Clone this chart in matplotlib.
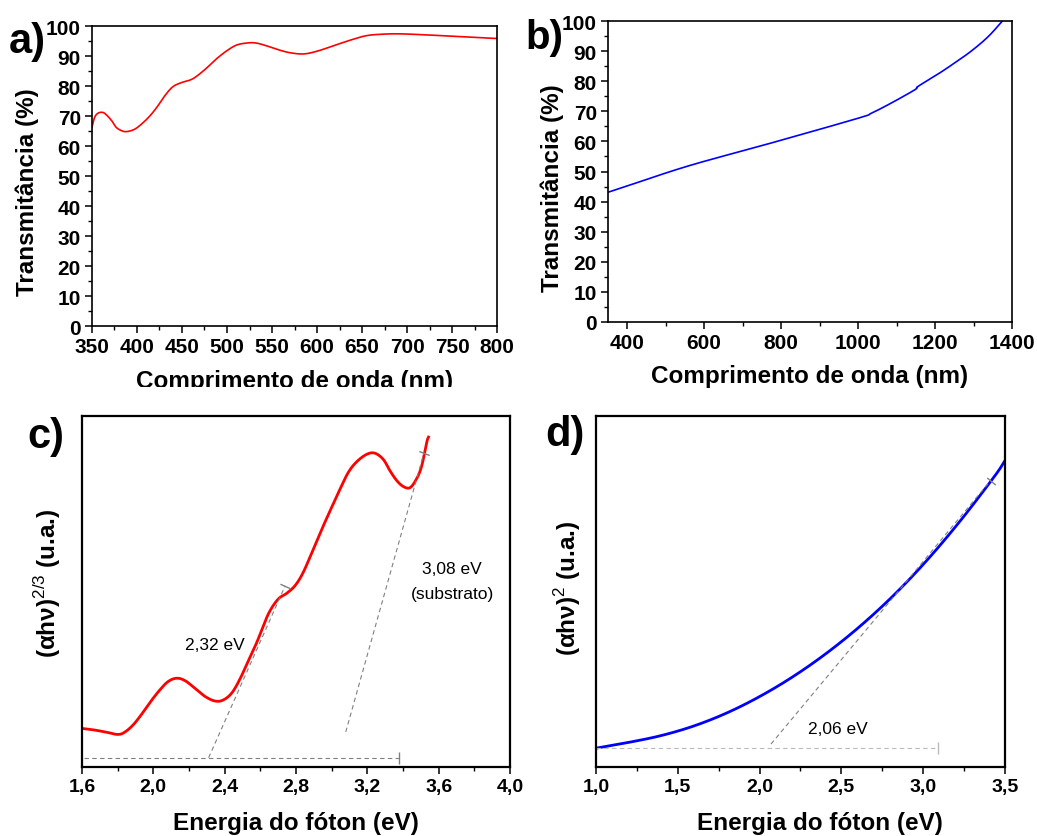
import matplotlib
matplotlib.use("Agg")
import matplotlib.pyplot as plt
from matplotlib.ticker import MultipleLocator, FuncFormatter
from matplotlib.transforms import Bbox, TransformedBbox

plt.rcParams['font.family'] = ['Liberation Sans', 'DejaVu Sans']
plt.rcParams['mathtext.fontset'] = 'custom'
plt.rcParams['mathtext.rm'] = 'Liberation Sans'
plt.rcParams['mathtext.bf'] = 'Liberation Sans:bold'

# a) transmitância do filme
wl_a = [350, 353, 357, 362, 366, 372, 377, 383, 388, 396, 403, 413, 422, 431,
        440, 450, 459, 466, 477, 488, 500, 511, 524, 533, 544, 557, 570, 585,
        600, 618, 637, 655, 674, 692, 718, 744, 770, 796, 800]
trans_a = [66.2, 69.6, 71.0, 71.2, 70.4, 68.4, 66.2, 65.1, 64.8, 65.4, 66.8,
           69.6, 72.9, 76.8, 79.8, 81.2, 82.0, 83.2, 85.9, 89.0, 91.8, 93.7,
           94.4, 94.3, 93.4, 92.1, 91.1, 90.7, 91.6, 93.4, 95.3, 96.8, 97.3,
           97.4, 97.1, 96.7, 96.3, 95.9, 95.9]

# b) transmitância do substrato
wl_b = [350, 400, 560, 775, 1000, 1035, 1087, 1148, 1156, 1208, 1250, 1295,
        1338, 1375]
trans_b = [43.1, 45.2, 51.9, 59.5, 67.7, 69.4, 72.8, 77.2, 78.3, 82.4, 86.0,
           90.1, 94.8, 100.0]

# c) Tauc (alfa h nu)^(2/3)
e_c = [1.600, 1.663, 1.739, 1.795, 1.832, 1.879, 1.925, 1.981, 2.037, 2.084,
       2.131, 2.178, 2.234, 2.290, 2.346, 2.392, 2.440, 2.486, 2.533, 2.580,
       2.617, 2.654, 2.701, 2.748, 2.795, 2.841, 2.897, 2.953, 3.000, 3.047,
       3.094, 3.141, 3.197, 3.243, 3.290, 3.327, 3.365, 3.402, 3.440, 3.477,
       3.505, 3.533, 3.543]
tauc_c = [11.0, 10.6, 9.9, 9.3, 9.7, 11.6, 14.4, 18.4, 22.0, 24.4, 25.3, 24.6,
          22.4, 20.1, 18.8, 19.1, 21.1, 25.1, 30.3, 35.5, 40.3, 44.5, 47.9,
          49.5, 51.7, 55.5, 62.1, 68.7, 74.0, 79.2, 84.0, 87.0, 89.1, 89.4,
          87.6, 84.4, 81.6, 79.9, 79.6, 82.2, 85.8, 92.5, 94.0]
base_c_x = [1.609, 3.378]
base_c_y = [2.66, 2.66]
tang1_x = [2.310, 2.739]
tang1_y = [2.66, 51.6]
tang2_x = [3.079, 3.518]
tang2_y = [10.0, 89.6]

# d) Tauc (alfa h nu)^2
e_d = [1.004, 1.198, 1.402, 1.605, 1.809, 2.013, 2.216, 2.420, 2.624, 2.828,
       3.031, 3.235, 3.439, 3.500]
tauc_d = [5.4, 7.0, 9.0, 11.8, 15.6, 20.4, 26.1, 32.8, 40.5, 49.3, 59.3, 70.6,
          83.0, 87.3]
base_d_x = [1.0, 3.093]
base_d_y = [5.3, 5.3]
tang_d_x = [2.070, 3.412]
tang_d_y = [6.55, 81.6]

comma = FuncFormatter(lambda v, p: f"{v:.1f}".replace('.', ','))

fig = plt.figure(figsize=(10.37, 8.37), dpi=100)
ax_a = fig.add_axes([0.0887, 0.6093, 0.3906, 0.3584])
ax_b = fig.add_axes([0.5863, 0.6141, 0.3896, 0.3596])
ax_c = fig.add_axes([0.0791, 0.0824, 0.4127, 0.4194])
ax_d = fig.add_axes([0.5747, 0.0824, 0.3944, 0.4194])


def style_axes(ax, lw, size):
    for s in ax.spines.values():
        s.set_linewidth(lw)
    ax.tick_params(which='major', direction='out', length=5, width=1.1,
                   labelsize=size, pad=3)
    ax.tick_params(which='minor', direction='out', length=3, width=1.0)
    ax.tick_params(top=False, right=False, which='both')
    for lab in ax.get_xticklabels() + ax.get_yticklabels():
        lab.set_fontweight('bold')


def smooth(ax, x, y, **kw):
    # curva suave entre os pontos lidos (spline de Catmull-Rom)
    import numpy as np
    x = np.asarray(x, float)
    y = np.asarray(y, float)
    px = np.concatenate([[2 * x[0] - x[1]], x, [2 * x[-1] - x[-2]]])
    py = np.concatenate([[2 * y[0] - y[1]], y, [2 * y[-1] - y[-2]]])
    t = np.linspace(0, 1, 12)[:-1]
    xs, ys = [], []
    for i in range(1, len(px) - 2):
        for arr, out in ((px, xs), (py, ys)):
            p0, p1, p2, p3 = arr[i - 1:i + 3]
            out.extend(0.5 * (2 * p1 + (-p0 + p2) * t
                              + (2 * p0 - 5 * p1 + 4 * p2 - p3) * t ** 2
                              + (-p0 + 3 * p1 - 3 * p2 + p3) * t ** 3))
    xs.append(x[-1])
    ys.append(y[-1])
    return ax.plot(xs, ys, **kw)


label_kw = dict(fontsize=17.5, fontweight='bold')

# a)
smooth(ax_a, wl_a, trans_a, color='#ff0000', lw=1.2)
ax_a.set_xlim(350, 800)
ax_a.set_ylim(0, 100)
ax_a.xaxis.set_major_locator(MultipleLocator(50))
ax_a.xaxis.set_minor_locator(MultipleLocator(25))
ax_a.yaxis.set_major_locator(MultipleLocator(10))
ax_a.yaxis.set_minor_locator(MultipleLocator(5))
style_axes(ax_a, 1.2, 15)
ax_a.set_ylabel('Transmitância (%)', **label_kw)
ax_a.yaxis.set_label_coords(-0.131, 0.45)
xl = ax_a.set_xlabel('Comprimento de onda (nm)', **label_kw)
ax_a.xaxis.set_label_coords(0.501, -0.143)
# rótulo cortado na imagem original
xl.set_clip_box(TransformedBbox(Bbox([[0, 1 - 388 / 837], [1, 1]]), fig.transFigure))
xl.set_clip_on(True)

# b)
smooth(ax_b, wl_b, trans_b, color='#0000ff', lw=1.2)
ax_b.set_xlim(350, 1400)
ax_b.set_ylim(0, 100)
ax_b.xaxis.set_major_locator(MultipleLocator(200))
ax_b.xaxis.set_minor_locator(MultipleLocator(100))
ax_b.yaxis.set_major_locator(MultipleLocator(10))
ax_b.yaxis.set_minor_locator(MultipleLocator(5))
style_axes(ax_b, 1.2, 15)
ax_b.set_ylabel('Transmitância (%)', **label_kw)
ax_b.yaxis.set_label_coords(-0.109, 0.448)
ax_b.set_xlabel('Comprimento de onda (nm)', **label_kw)
ax_b.xaxis.set_label_coords(0.5, -0.14)

# c)
smooth(ax_c, e_c, tauc_c, color='#ff0000', lw=2.0)
dash = dict(lw=0.8, ls=(0, (4, 3)), markevery=[1], ms=8)
ax_c.plot(base_c_x, base_c_y, color='#808080', marker='|', **dash)
ax_c.plot(tang1_x, tang1_y, color='#808080', marker=(2, 0, 65.8), **dash)
ax_c.plot(tang2_x, tang2_y, color='#808080', marker=(2, 0, 69.0), **dash)
ax_c.text(2.343, 34.9, '2,32 eV', fontsize=12.5, ha='center', va='center')
ax_c.text(3.675, 56.5, '3,08 eV', fontsize=12.5, ha='center', va='center')
ax_c.text(3.677, 49.4, '(substrato)', fontsize=12.5, ha='center', va='center')
ax_c.set_xlim(1.6, 4.0)
ax_c.set_ylim(0, 100)
ax_c.xaxis.set_major_locator(MultipleLocator(0.4))
ax_c.xaxis.set_minor_locator(MultipleLocator(0.2))
ax_c.xaxis.set_major_formatter(comma)
ax_c.set_yticks([])
style_axes(ax_c, 1.6, 14)
ax_c.set_ylabel(r'(αhν)$^{\mathrm{2/3}}$ (u.a.)', **label_kw)
ax_c.yaxis.set_label_coords(-0.044, 0.527)
ax_c.set_xlabel('Energia do fóton (eV)', **label_kw)
ax_c.xaxis.set_label_coords(0.5, -0.125)

# d)
smooth(ax_d, e_d, tauc_d, color='#0000ff', lw=2.0)
ax_d.plot(base_d_x, base_d_y, color='#bbbbbb', marker='|', **dash)
ax_d.plot(tang_d_x, tang_d_y, color='#808080', marker=(2, 0, 50.0), **dash)
ax_d.text(2.481, 11.1, '2,06 eV', fontsize=12.5, ha='center', va='center')
ax_d.set_xlim(1.0, 3.5)
ax_d.set_ylim(0, 100)
ax_d.xaxis.set_major_locator(MultipleLocator(0.5))
ax_d.xaxis.set_minor_locator(MultipleLocator(0.25))
ax_d.xaxis.set_major_formatter(comma)
ax_d.set_yticks([])
style_axes(ax_d, 1.6, 14)
ax_d.set_ylabel(r'(αhν)$^{\mathrm{2}}$ (u.a.)', **label_kw)
ax_d.yaxis.set_label_coords(-0.032, 0.513)
ax_d.set_xlabel('Energia do fóton (eV)', **label_kw)
ax_d.xaxis.set_label_coords(0.548, -0.125)

# letras dos painéis
fig.text(9 / 1037, 1 - 42 / 837, 'a)', fontsize=30, fontweight='bold', va='center')
fig.text(525 / 1037, 1 - 38 / 837, 'b)', fontsize=29, fontweight='bold', va='center')
fig.text(27 / 1037, 1 - 437 / 837, 'c)', fontsize=30, fontweight='bold', va='center')
fig.text(545 / 1037, 1 - 435 / 837, 'd)', fontsize=30, fontweight='bold', va='center')

fig.savefig('out.png', dpi=100)
